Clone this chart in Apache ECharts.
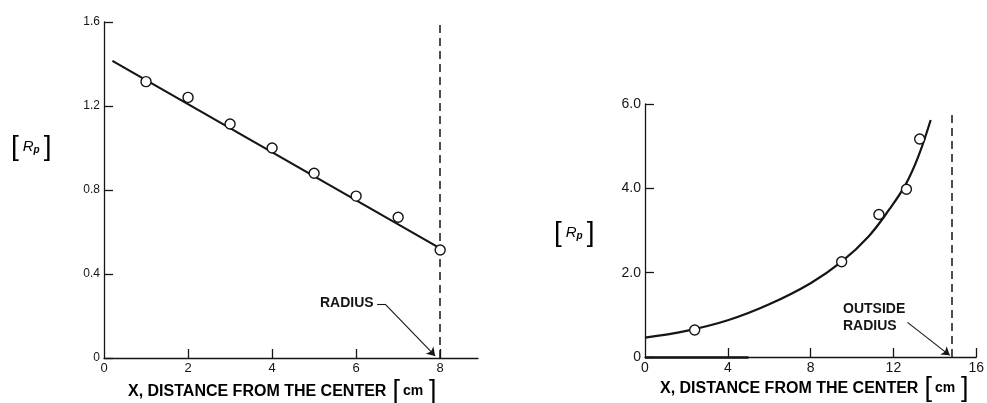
<!DOCTYPE html>
<html>
<head>
<meta charset="utf-8">
<script src="https://cdn.jsdelivr.net/npm/echarts@6/dist/echarts.min.js"></script>
<style>
html, body { margin: 0; padding: 0; background: #fff; }
#chart { width: 987px; height: 403px; }
</style>
</head>
<body>
<div id="chart"></div>
<script>
// data grafik kiri (titik ukur)
const leftX = [1, 2, 3, 4, 5, 6, 7, 8];
const leftY = [1.316, 1.241, 1.114, 1.0, 0.88, 0.771, 0.67, 0.514];
// garis lurus kiri
const leftFitX = [0.2, 8];
const leftFitY = [1.415, 0.522];
const leftXLabels = [0, 2, 4, 6, 8];
const leftXTicks = [2, 4, 6, 8];
const leftYLabels = [0, 0.4, 0.8, 1.2, 1.6];
const leftRadius = 8;

// data grafik kanan (titik ukur)
const rightX = [2.4, 9.5, 11.3, 12.63, 13.27];
const rightY = [0.64, 2.26, 3.38, 3.98, 5.17];
// kurva kanan
const rightFitX = [0, 2, 4, 6, 8, 9.5, 10.8, 11.8, 12.6, 13.2, 13.8];
const rightFitY = [0.46, 0.62, 0.87, 1.25, 1.75, 2.26, 2.86, 3.5, 4.1, 4.75, 5.62];
const rightXLabels = [0, 4, 8, 12, 16];
const rightXTicks = [4, 8, 12, 16];
const rightYLabels = [0, 2, 4, 6];
const rightRadius = 14.8;
const rightDashTop = 5.76;
// garis tebal di sumbu x kanan (bekas cetakan)
const rightSmear = [[0, 0], [5, 0]];

// panah keterangan
const leftArrow = [[6.5, 0.257], [6.69, 0.257], [7.88, 0.01]];
const rightArrow = [[12.68, 0.82], [14.72, 0.04]];

const ink = '#151515';
const font = 'Liberation Sans';

function pairs(xs, ys) {
    return xs.map((x, i) => [x, ys[i]]);
}

function xAxisOf(grid, max, labels, ticks, size) {
    return {
        type: 'value', gridIndex: grid, min: 0, max: max,
        splitLine: { show: false },
        axisLine: { lineStyle: { color: ink, width: 1.3 } },
        axisTick: { inside: true, length: 9, customValues: ticks, lineStyle: { color: ink, width: 1.3 } },
        axisLabel: { customValues: labels, color: ink, fontFamily: font, fontSize: size, margin: 4 }
    };
}

function yAxisOf(grid, max, labels, size, fmt) {
    return {
        type: 'value', gridIndex: grid, min: 0, max: max,
        splitLine: { show: false },
        axisLine: { lineStyle: { color: ink, width: 1.3 } },
        axisTick: { inside: true, length: 9, customValues: labels, lineStyle: { color: ink, width: 1.3 } },
        axisLabel: { customValues: labels, color: ink, fontFamily: font, fontSize: size, margin: 4, formatter: fmt }
    };
}

const fmtDec = v => (v === 0 ? '0' : v.toFixed(1));

const dashStyle = { color: ink, width: 1.5, type: [8, 5] };
const arrowStyle = { color: ink, width: 1.1, type: 'solid' };

function arrowLines(pts) {
    const out = [];
    for (let i = 0; i < pts.length - 1; i++) {
        const last = i === pts.length - 2;
        out.push([
            { coord: pts[i], symbol: 'none' },
            { coord: pts[i + 1], symbol: last ? 'arrow' : 'none', symbolSize: 8 }
        ]);
    }
    return out;
}

const rpRich = {
    b: { fontSize: 28, fontFamily: font, color: ink, padding: [0, 1, 0, 1] },
    r: { fontSize: 15, fontStyle: 'italic', fontFamily: font, color: ink, padding: [0, 0, 0, 3] },
    p: { fontSize: 10, fontStyle: 'italic', fontWeight: 'bold', fontFamily: font, color: ink, padding: [6, 3, 0, 0] }
};
const titleRich = {
    t: { fontSize: 16, fontWeight: 'bold', fontFamily: font, color: ink },
    b: { fontSize: 27, fontFamily: font, color: ink, padding: [0, 3, 0, 6] },
    c: { fontSize: 14, fontWeight: 'bold', fontFamily: font, color: ink }
};

const pointStyle = { color: '#fff', borderColor: ink, borderWidth: 1.4, opacity: 1 };

const chart = echarts.init(document.getElementById('chart'));

const option = {
    backgroundColor: '#fff',
    animation: false,
    grid: [
        { left: 104, top: 22, width: 374, height: 336 },
        { left: 645, top: 104, width: 337, height: 253 }
    ],
    xAxis: [
        xAxisOf(0, 8.9, leftXLabels, leftXTicks, 13),
        xAxisOf(1, 16, rightXLabels, rightXTicks, 14)
    ],
    yAxis: [
        yAxisOf(0, 1.6, leftYLabels, 12, fmtDec),
        yAxisOf(1, 6, rightYLabels, 14, fmtDec)
    ],
    series: [
        {
            type: 'line', xAxisIndex: 0, yAxisIndex: 0,
            data: pairs(leftFitX, leftFitY),
            symbol: 'none', lineStyle: { color: ink, width: 2.2 },
            markLine: {
                silent: true, symbol: 'none', label: { show: false },
                lineStyle: dashStyle,
                data: [[{ coord: [leftRadius, 0] }, { coord: [leftRadius, 1.6] }]]
            }
        },
        {
            type: 'line', xAxisIndex: 0, yAxisIndex: 0,
            data: [], symbol: 'none',
            markLine: {
                silent: true, label: { show: false },
                lineStyle: arrowStyle,
                data: arrowLines(leftArrow)
            }
        },
        {
            type: 'scatter', xAxisIndex: 0, yAxisIndex: 0,
            data: pairs(leftX, leftY), z: 5,
            symbol: 'circle', symbolSize: 10,
            itemStyle: pointStyle
        },
        {
            type: 'line', xAxisIndex: 1, yAxisIndex: 1,
            data: pairs(rightFitX, rightFitY),
            smooth: 0.4,
            symbol: 'none', lineStyle: { color: ink, width: 2.2 },
            markLine: {
                silent: true, symbol: 'none', label: { show: false },
                lineStyle: dashStyle,
                data: [[{ coord: [rightRadius, 0] }, { coord: [rightRadius, rightDashTop] }]]
            }
        },
        {
            type: 'line', xAxisIndex: 1, yAxisIndex: 1,
            data: [], symbol: 'none',
            markLine: {
                silent: true, label: { show: false },
                lineStyle: arrowStyle,
                data: arrowLines(rightArrow).concat([[
                    { coord: rightSmear[0], symbol: 'none', lineStyle: { width: 2.6 } },
                    { coord: rightSmear[1], symbol: 'none' }
                ]])
            }
        },
        {
            type: 'scatter', xAxisIndex: 1, yAxisIndex: 1,
            data: pairs(rightX, rightY), z: 5,
            symbol: 'circle', symbolSize: 10,
            itemStyle: pointStyle
        }
    ],
    graphic: [
        {
            type: 'text', left: 11, top: 133,
            style: { text: '{b|[}{r|R}{p|p}{b|]}', rich: rpRich }
        },
        {
            type: 'text', left: 554, top: 219,
            style: { text: '{b|[}{r|R}{p|p}{b|]}', rich: rpRich }
        },
        {
            type: 'text', left: 128, top: 378,
            style: { text: '{t|X, DISTANCE FROM THE CENTER}{b|[}{c|cm}{b|]}', rich: titleRich }
        },
        {
            type: 'text', left: 660, top: 375,
            style: { text: '{t|X, DISTANCE FROM THE CENTER}{b|[}{c|cm}{b|]}', rich: titleRich }
        },
        {
            type: 'text', left: 320, top: 296,
            style: { text: 'RADIUS', fontSize: 14, fontWeight: 'bold', fontFamily: font, fill: ink }
        },
        {
            type: 'text', left: 843, top: 301,
            style: { text: 'OUTSIDE\nRADIUS', fontSize: 14, lineHeight: 17, align: 'center', fontWeight: 'bold', fontFamily: font, fill: ink }
        }
    ]
};

chart.setOption(option);
</script>
</body>
</html>
